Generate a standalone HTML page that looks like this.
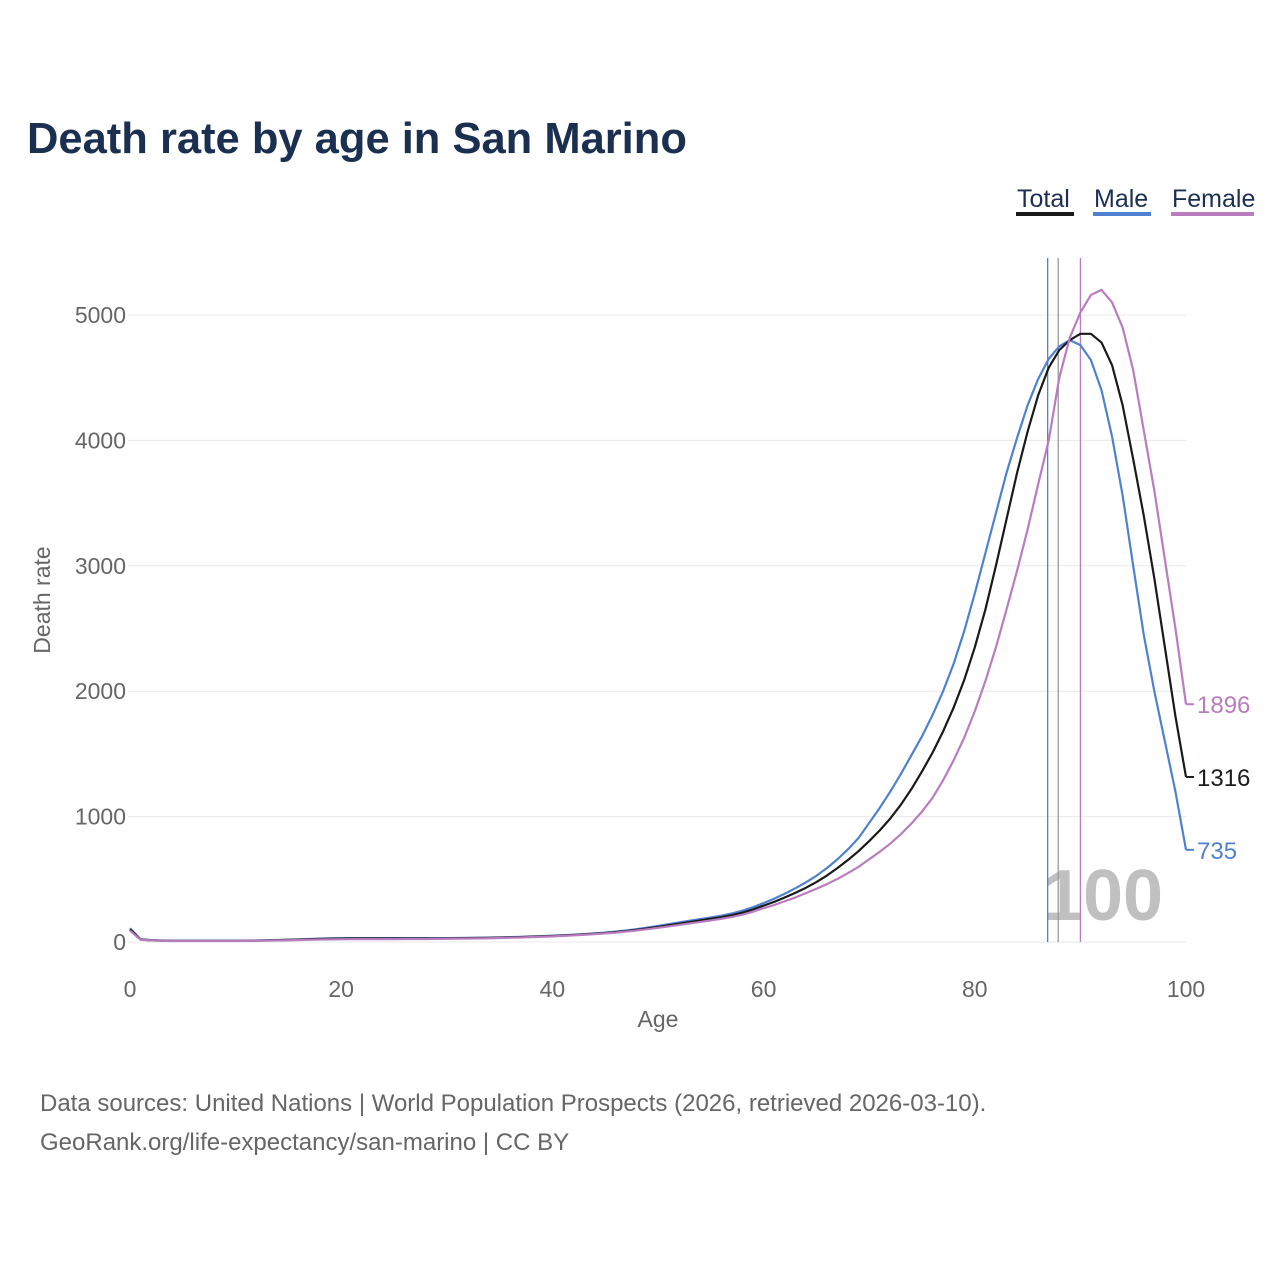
<!DOCTYPE html>
<html><head><meta charset="utf-8">
<style>
body{margin:0;background:#fff;width:1280px;height:1280px;overflow:hidden;font-family:"Liberation Sans",sans-serif;}
svg text{font-family:"Liberation Sans",sans-serif;}
</style></head>
<body>
<svg id="chart" width="1280" height="1280" viewBox="0 0 1280 1280">
<text x="27" y="153" font-size="43.5" font-weight="bold" fill="#1b3050">Death rate by age in San Marino</text>
<g>
<g><text x="1017" y="207" font-size="25" fill="#1b3050">Total</text><rect x="1016" y="212" width="58" height="4" fill="#1a1a1a"/></g>
<g><text x="1094" y="207" font-size="25" fill="#1b3050">Male</text><rect x="1093" y="212" width="58" height="4" fill="#5081d0"/></g>
<g><text x="1172" y="207" font-size="25" fill="#1b3050">Female</text><rect x="1171" y="212" width="83" height="4" fill="#b97cbf"/></g>
</g>
<text x="1103" y="920" font-size="72" font-weight="bold" fill="#c0c0c0" text-anchor="middle">100</text>
<g id="grid"></g><g id="marks"></g>
<text x="658" y="1027" font-size="23" fill="#666" text-anchor="middle">Age</text>
<text transform="translate(50,600) rotate(-90)" font-size="23" fill="#666" text-anchor="middle">Death rate</text>
<text x="40" y="1111" font-size="24" fill="#666">Data sources: United Nations | World Population Prospects (2026, retrieved 2026-03-10).</text>
<text x="40" y="1150" font-size="24" fill="#666">GeoRank.org/life-expectancy/san-marino | CC BY</text>
</svg>
<script>
const yTicks=[0,1000,2000,3000,4000,5000];
const xTicks=[0,20,40,60,80,100];
const male=[110,22,15,12,10,10,10,10,10,10,10,11,12,14,16,18,21,24,27,29,30,31,31,31,31,31,31,31,31,31,31,32,33,34,35,37,39,41,44,47,50,54,58,63,69,75,83,92,103,115,128,142,156,170,183,196,210,228,250,278,310,345,385,428,475,528,590,660,740,830,950,1070,1200,1340,1490,1640,1810,2000,2220,2480,2780,3100,3420,3740,4020,4280,4490,4650,4750,4800,4760,4640,4400,4030,3560,3000,2450,2000,1600,1200,735];
const total=[100,20,14,11,9,9,9,9,9,9,9,10,11,13,15,17,19,22,24,26,27,28,28,28,28,28,28,28,28,28,29,30,31,32,33,35,37,39,42,45,48,52,56,61,66,72,79,87,97,108,120,133,146,159,172,185,198,214,234,260,290,320,355,392,432,478,530,590,655,725,805,890,985,1095,1220,1360,1510,1680,1870,2090,2350,2650,3000,3370,3740,4070,4360,4580,4720,4800,4850,4850,4780,4600,4280,3850,3400,2900,2350,1800,1316];
const female=[90,18,13,10,8,8,8,8,8,8,8,9,10,11,13,14,16,18,20,21,22,23,23,23,23,23,24,24,24,25,26,27,28,29,30,32,34,36,39,42,45,49,53,58,63,69,75,83,92,102,113,124,136,148,160,172,185,200,218,242,270,295,325,355,390,425,462,503,550,600,660,720,785,860,945,1040,1150,1290,1450,1630,1840,2080,2350,2650,2960,3290,3650,4000,4500,4820,5020,5160,5200,5100,4900,4560,4080,3600,3050,2500,1896];
const finals=[["male",male,"#5081d0"],["total",total,"#1a1a1a"],["female",female,"#b97cbf"]];
const vlines=[["male-life-expectancy-line",86.9,"#5081d0"],["total-life-expectancy-line",87.9,"#999"],["female-life-expectancy-line",90.0,"#b97cbf"]];
const X=a=>130+a*10.56, Y=v=>942-v*0.1254;
const NS="http://www.w3.org/2000/svg";
const grid=document.getElementById('grid'), marks=document.getElementById('marks');
function mk(tag,attrs,parent){const e=document.createElementNS(NS,tag);for(const k in attrs)e.setAttribute(k,attrs[k]);parent.appendChild(e);return e;}
yTicks.forEach(t=>{
 const l=mk('line',{x1:128,x2:1186,y1:Y(t),y2:Y(t),stroke:'#e8e8e8','stroke-width':1},grid);
 
 
 const tx=mk('text',{x:126,y:Y(t)+8,'font-size':23,fill:'#666','text-anchor':'end'},grid);tx.textContent=t;
 
 
});
xTicks.forEach(t=>{
 const tx=mk('text',{x:X(t),y:997,'font-size':23,fill:'#666','text-anchor':'middle'},grid);tx.textContent=t;
 
 
});
vlines.forEach(([n,a,c])=>{
 const l=mk('line',{x1:X(a),x2:X(a),y1:258,y2:942,stroke:c,'stroke-width':1.3},marks);
 
 
});
finals.forEach(([n,d,c])=>{
 const p=mk('polyline',{points:d.map((v,i)=>X(i)+','+Y(v)).join(' '),fill:'none',stroke:c,'stroke-width':2.2,'stroke-linejoin':'round'},marks);
 
 
 const last=d[d.length-1];
 mk('line',{x1:X(100),x2:X(100)+8,y1:Y(last),y2:Y(last),stroke:c,'stroke-width':2},marks);
 const t=mk('text',{x:1197,y:Y(last)+9,'font-size':24,fill:c},marks);t.textContent=last;
 
 
});
</script>
</body></html>
